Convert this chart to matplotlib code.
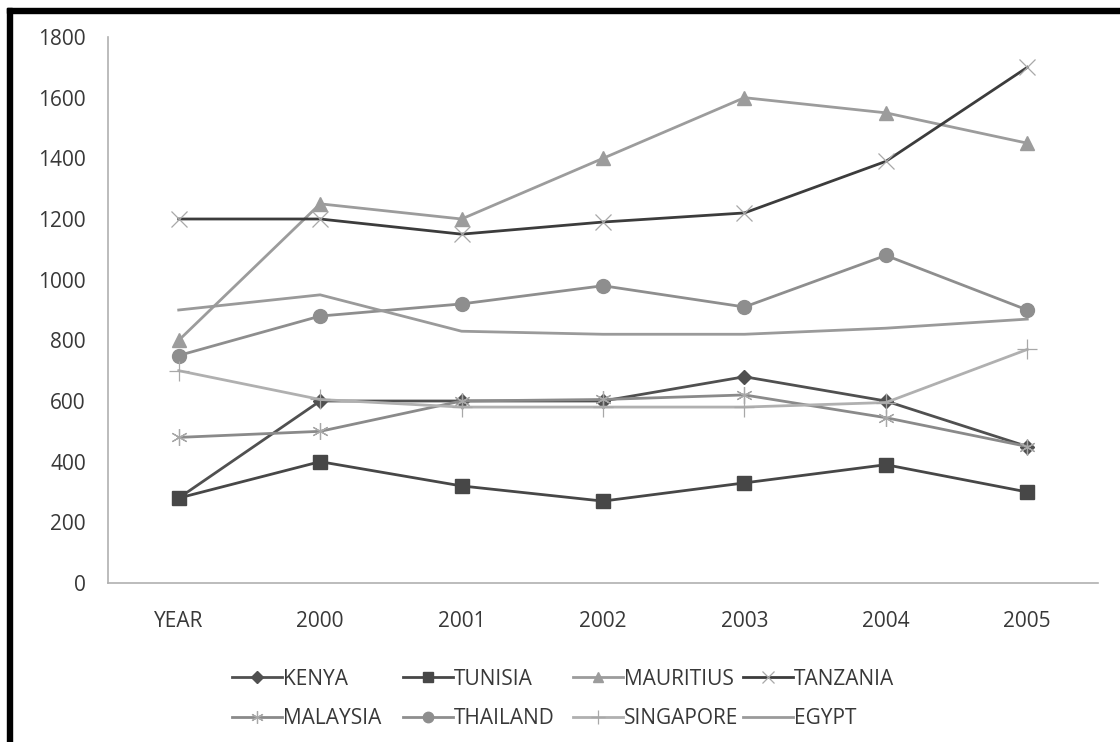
import matplotlib.pyplot as plt
from matplotlib.patches import Rectangle

plt.rcParams['font.family'] = ['Open Sans', 'DejaVu Sans']

years = ['YEAR', '2000', '2001', '2002', '2003', '2004', '2005']

kenya = [280, 600, 600, 600, 680, 600, 450]
tunisia = [280, 400, 320, 270, 330, 390, 300]
mauritius = [800, 1250, 1200, 1400, 1600, 1550, 1450]
tanzania = [1200, 1200, 1150, 1190, 1220, 1390, 1700]
malaysia = [480, 500, 600, 605, 620, 545, 450]
thailand = [750, 880, 920, 980, 910, 1080, 900]
singapore = [700, 605, 580, 580, 580, 595, 770]
egypt = [900, 950, 830, 820, 820, 840, 870]

series = [
    ('KENYA', kenya, '#505050', 'D', 7.5),
    ('TUNISIA', tunisia, '#474747', 's', 10),
    ('MAURITIUS', mauritius, '#9c9c9c', '^', 10),
    ('TANZANIA', tanzania, '#3c3c3c', 'x', 11),
    ('MALAYSIA', malaysia, '#8a8a8a', (6, 2, 0), 12),
    ('THAILAND', thailand, '#8e8e8e', 'o', 10),
    ('SINGAPORE', singapore, '#b0b0b0', '+', 14),
    ('EGYPT', egypt, '#9a9a9a', None, 0),
]

W, H = 1120, 742
fig = plt.figure(figsize=(W / 100, H / 100), dpi=100)
ax = fig.add_axes([108 / W, 1 - 583 / H, 990 / W, 546 / H])

x = list(range(len(years)))
for name, vals, color, marker, ms in series:
    # thin-stroke markers (x, +, star) are drawn lighter than the line
    thin = marker in ('x', '+', (6, 2, 0))
    ax.plot(x, vals, color=color, lw=2.0, marker=marker, markersize=ms,
            markeredgewidth=0.9 if thin else 1.0,
            markeredgecolor='#a8a8a8' if thin else color,
            markerfacecolor=color, label=name)

ax.set_xlim(-0.5, len(years) - 0.5)
ax.set_ylim(0, 1800)
ax.set_yticks(range(0, 1801, 200))
ax.set_xticks(x)
ax.set_xticklabels(years)

for side in ('top', 'right'):
    ax.spines[side].set_visible(False)
for side in ('left', 'bottom'):
    ax.spines[side].set_color('#b0b0b0')
    ax.spines[side].set_linewidth(1.2)
ax.tick_params(axis='both', length=0, labelsize=15, labelcolor='#383838')
ax.tick_params(axis='y', pad=16)
ax.tick_params(axis='x', pad=20)

# legend: four equal-width columns of two rows each
handles, labels = ax.get_legend_handles_labels()
col_x = [232, 403, 573, 743]
for c, px in enumerate(col_x):
    idx = [c, c + 4]
    leg = fig.legend([handles[i] for i in idx], [labels[i] for i in idx],
                     loc='center left', bbox_to_anchor=(px / W, 1 - 699 / H),
                     frameon=False, fontsize=15, handlelength=2.4,
                     handletextpad=0.05, labelspacing=0.9, borderpad=0,
                     borderaxespad=0, markerscale=0.75)
    for t in leg.get_texts():
        t.set_color('#383838')

# black frame along the top and left edge
fig.patches.append(Rectangle((7 / W, 0), 5 / W, 1 - 8 / H,
                             transform=fig.transFigure, color='black', zorder=10))
fig.patches.append(Rectangle((7 / W, 1 - 13 / H), 1, 5 / H,
                             transform=fig.transFigure, color='black', zorder=10))

fig.savefig('out.png', dpi=100)
